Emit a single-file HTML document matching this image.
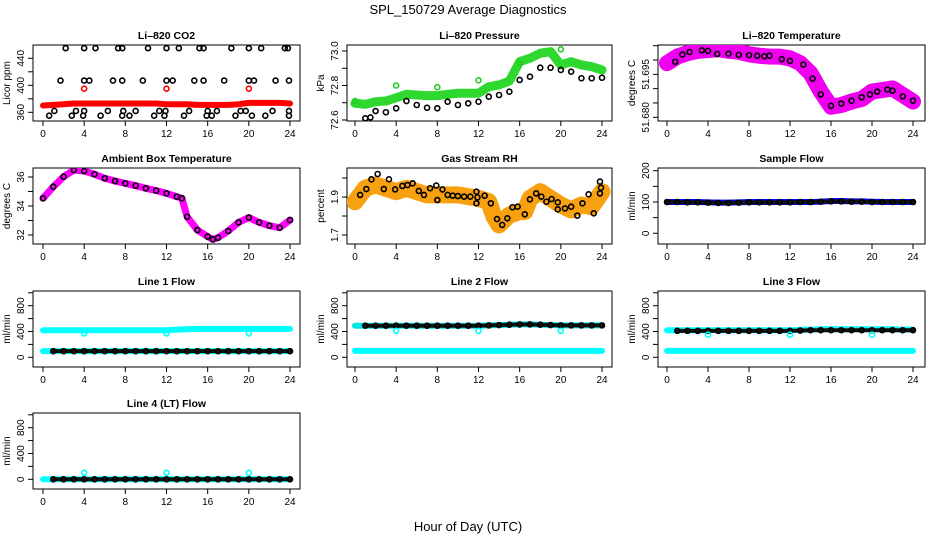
<!DOCTYPE html>
<html><head><meta charset="utf-8">
<style>
html,body{margin:0;padding:0;background:#fff;}
svg{display:block;font-family:"Liberation Sans",Arial,sans-serif;}
</style></head>
<body>
<svg id="chart" width="936" height="540" viewBox="0 0 936 540" xmlns="http://www.w3.org/2000/svg">
<text x="468" y="14" text-anchor="middle" font-size="13">SPL_150729  Average Diagnostics</text>
<text x="468" y="531" text-anchor="middle" font-size="13">Hour of Day (UTC)</text>
</svg>
<script>
// ---------- data ----------
const xTicks = [0,4,8,12,16,20,24];
const hours = [0,1,2,3,4,5,6,7,8,9,10,11,12,13,14,15,16,17,18,19,20,21,22,23,24];

// CO2
const co2Red = [370,371,372,373,373,373,373,373,373,373,373,373,372,372,372,371,371,371,371,372,374,374,374,374,373];
const co2OutHours = [4,12,20];
const co2OutVals = [395,395,395];
const co2Row455Hours = [2.2,4,5.1,7.3,7.7,10.2,12,13.2,15.2,15.6,18.3,20,21.2,23.5,23.8];
const co2Row407Hours = [1.7,4,4.5,6.8,7.7,9.7,12,12.6,14.7,15.6,17.6,20,20.5,22.6,23.9];
const co2Row362Hours = [1.1,3.2,4,6.3,7.8,9.0,11.3,11.9,14.2,16,16.9,19.2,19.7,22.3,23.9];
const co2Row355Hours = [0.6,2.8,3.9,5.6,7.7,8.4,10.8,11.8,13.7,15.9,16.4,18.7,20.3,21.6,23.9];

// Pressure
const presGreen = [72.697,72.691,72.706,72.710,72.729,72.749,72.745,72.741,72.741,72.749,72.755,72.755,72.755,72.793,72.803,72.826,72.938,72.958,72.987,72.996,72.919,72.938,72.919,72.909,72.89];
const presBlackHours = [1,1.5,2,3,4,5,6,7,8,9,10,11,12,13,14,15,16,17,18,19,20,21,22,23,24];
const presBlack = [72.61,72.615,72.652,72.645,72.668,72.71,72.687,72.671,72.668,72.706,72.687,72.697,72.706,72.735,72.745,72.764,72.832,72.851,72.903,72.903,72.89,72.88,72.842,72.842,72.845];
const presGreenOutHours = [0,4,8,12,16,20];
const presGreenOut = [72.71,72.80,72.79,72.83,72.93,73.01];

// Li-820 temperature
const tempPink = [51.6989,51.7012,51.7024,51.7032,51.7035,51.7038,51.7032,51.7029,51.7020,51.7015,51.7012,51.7012,51.7006,51.6989,51.6954,51.6890,51.6837,51.6843,51.6855,51.6864,51.6890,51.6895,51.6901,51.6878,51.6855];
const tempBlackHours = [0.8,1.5,2.2,3.4,4,4.9,6,7,8,8.8,9.5,10,11.2,12,13.3,14.2,15,16,17,18,19,19.8,20.5,21.5,22,23,24];
const tempBlack = [51.6994,51.7019,51.7028,51.7034,51.7032,51.7021,51.7022,51.7018,51.7017,51.7015,51.7013,51.7015,51.7003,51.6997,51.6984,51.6935,51.6880,51.6840,51.6848,51.6858,51.6870,51.6880,51.6890,51.6897,51.6893,51.6873,51.6858];

// Ambient box temperature
const ambHours = [0,1,2,3,4,5,6,7,8,9,10,11,12,13,13.5,14,15,16,16.5,17,18,19,20,21,22,23,24];
const ambVals = [34.53,35.33,36.02,36.48,36.41,36.19,35.91,35.72,35.56,35.40,35.22,35.06,34.87,34.64,34.53,33.26,32.34,31.89,31.70,31.81,32.28,32.87,33.20,32.87,32.64,32.50,33.03];

// Gas stream RH
const rhHours = [0,1,2,3,4,5,6,7,8,9,10,11,12,13,13.5,14,15,16,16.5,17,18,19,20,21,22,23,24];
const rhBand = [1.875,1.946,1.963,1.946,1.928,1.946,1.928,1.911,1.911,1.911,1.911,1.902,1.893,1.875,1.796,1.753,1.805,1.823,1.823,1.893,1.928,1.893,1.858,1.832,1.858,1.849,1.928];
const rhBlackHours = [0.5,1.1,1.6,2.2,2.8,3.3,3.9,4.6,5.1,5.6,6.2,6.7,7.3,7.9,8,8.5,9,9.5,10,10.6,11.2,11.8,11.8,11.9,12.6,13.2,13.8,14.3,14.8,15.3,15.8,16.5,17,17.6,18.1,18.6,19.1,19.7,19.7,20.4,21,21.6,22.1,22.7,23.2,23.8,23.8,23.9];
const rhBlack = [1.911,1.942,1.993,2.021,1.942,1.993,1.940,1.958,1.963,1.972,1.932,1.911,1.946,1.960,1.884,1.940,1.911,1.907,1.905,1.902,1.902,1.928,1.867,1.898,1.907,1.867,1.784,1.753,1.788,1.846,1.849,1.809,1.888,1.919,1.902,1.875,1.889,1.872,1.835,1.840,1.849,1.802,1.867,1.914,1.814,1.919,1.981,1.949];

// Sample flow
const sampleBlue = [100,100,100,100,99,98,98,99,100,100,100,100,100,100,100,101,103,103,102,102,101,100,100,100,100];
const sampleBlack = [100,100,99,99,98,97,97,98,99,99,99,99,99,100,100,101,102,102,101,101,100,100,100,100,100];

// Line flows
const l1Cyan = [420,420,420,420,420,420,420,420,420,420,420,420,420,430,435,440,440,440,440,440,440,440,440,440,440];
const l1Low = [95,95,95,95,95,95,95,95,95,95,95,95,95,95,95,95,95,95,95,95,95,95,95,95,95];
const l1Out = [370,370,370];
const l2Black = [490,490,490,490,490,490,490,490,490,490,490,490,490,495,500,505,510,510,505,500,495,495,495,495,495];
const l2Cyan = [100,100,100,100,100,100,100,100,100,100,100,100,100,100,100,100,100,100,100,100,100,100,100,100,100];
const l2Out = [410,410,410];
const l3Black = [410,410,410,410,410,410,410,410,410,410,410,410,410,415,420,420,420,420,420,420,420,420,420,420,420];
const l3CyanHi = [420,420,420,420,420,420,420,420,420,420,420,420,420,425,430,435,435,435,435,435,435,435,435,430,430];
const l3Cyan = [100,100,100,100,100,100,100,100,100,100,100,100,100,100,100,100,100,100,100,100,100,100,100,100,100];
const l3Out = [350,350,350];
const l4Black = [0,0,0,0,0,0,0,0,0,0,0,0,0,0,0,0,0,0,0,0,0,0,0,0,0];
const l4Out = [100,100,100];
const outHours = [4,12,20];

// ---------- drawing ----------
const NS = "http://www.w3.org/2000/svg";
const svg = document.getElementById('chart');
function mk(tag, attrs, parent){
  const e = document.createElementNS(NS, tag);
  for (const k in attrs) e.setAttribute(k, attrs[k]);
  (parent||svg).appendChild(e);
  return e;
}
const cols = [{l:33,r:300,x0:43,x1:290},{l:347,r:612,x0:355,x1:602},{l:658,r:925,x0:667,x1:913}];
const rowsTop = [45,168,291,413];
const H = 76;

function makePanel(name, title, col, row, yref, yTicks, yLabels, yTitle){
  const c = cols[col], top = rowsTop[row], bot = top+H;
  const g = mk('g',{});
  
  
  const sx = v => c.x0 + (v/24)*(c.x1-c.x0);
  const sy = v => top + yref[1] + (v-yref[0])*(yref[3]-yref[1])/(yref[2]-yref[0]);
  const t = mk('text',{x:(c.l+c.r)/2,y:top-6,'text-anchor':'middle','font-size':10.5,'font-weight':'bold'},g);
  t.textContent = title;
  
  
  const box = mk('rect',{x:c.l,y:top,width:c.r-c.l,height:H,fill:'none',stroke:'#000','stroke-width':1},g);
  
  
  const xa = mk('g',{},g);
  
  
  mk('line',{x1:sx(xTicks[0]),x2:sx(xTicks[xTicks.length-1]),y1:bot,y2:bot,stroke:'#000'},xa);
  xTicks.forEach(v=>{
    mk('line',{x1:sx(v),x2:sx(v),y1:bot,y2:bot+5,stroke:'#000'},xa);
    const tl = mk('text',{x:sx(v),y:bot+16,'text-anchor':'middle','font-size':10},xa);
    tl.textContent = v;
    
    
  });
  const ya = mk('g',{},g);
  
  
  mk('line',{x1:c.l,x2:c.l,y1:sy(yTicks[0]),y2:sy(yTicks[yTicks.length-1]),stroke:'#000'},ya);
  yTicks.forEach(v=>{ mk('line',{x1:c.l-5,x2:c.l,y1:sy(v),y2:sy(v),stroke:'#000'},ya); });
  yLabels.forEach(v=>{
    const x = c.l-9, y = sy(v);
    const tl = mk('text',{x:x,y:y,'text-anchor':'middle','font-size':10,transform:`rotate(-90 ${x} ${y})`},ya);
    tl.textContent = v;
    
    
  });
  const ytx = c.l-23, yty = top+H/2;
  const yt = mk('text',{x:ytx,y:yty,'text-anchor':'middle','font-size':10,transform:`rotate(-90 ${ytx} ${yty})`},g);
  yt.textContent = yTitle;
  
  
  const clip = 'clip'+name;
  const cp = mk('clipPath',{id:clip},g);
  mk('rect',{x:c.l,y:top,width:c.r-c.l,height:H},cp);
  const plot = mk('g',{'clip-path':`url(#${clip})`},g);
  return {sx, sy, plot};
}
function band(p, xs, ys, color, w, nm){
  const pts = xs.map((x,i)=>p.sx(x)+','+p.sy(ys[i])).join(' ');
  const e = mk('polyline',{points:pts,fill:'none',stroke:color,'stroke-width':w,'stroke-linejoin':'round','stroke-linecap':'round'},p.plot);
  
  
}
function pts(p, xs, ys, color, nm, r){
  xs.forEach((x,i)=>{
    const e = mk('circle',{cx:p.sx(x),cy:p.sy(ys[i]),r:r||2.5,fill:'none',stroke:color,'stroke-width':1.6},p.plot);
    
    
  });
}
function constArr(xs, v){ return xs.map(()=>v); }

// Panel 1: CO2
let p = makePanel('co2-panel','Li\u2013820 CO2',0,0,[360,67.3,440,13.3],[360,380,400,420,440],[360,400,440],'Licor ppm');
band(p,hours,co2Red,'#ff0000',6,'co2-red-series');
pts(p,co2OutHours,co2OutVals,'#ff0000','co2-red-outlier');
pts(p,co2Row455Hours,constArr(co2Row455Hours,455),'#000','co2-black-point');
pts(p,co2Row407Hours,constArr(co2Row407Hours,407),'#000','co2-black-point');
pts(p,co2Row362Hours,constArr(co2Row362Hours,362),'#000','co2-black-point');
pts(p,co2Row355Hours,constArr(co2Row355Hours,355),'#000','co2-black-point');

// Panel 2: Pressure
p = makePanel('pressure-panel','Li\u2013820 Pressure',1,0,[72.6,75,73.0,6],[72.6,72.7,72.8,72.9,73.0],['72.6','72.8','73.0'],'kPa');
band(p,hours,presGreen,'#2fd82f',9,'pressure-green-series');
pts(p,presGreenOutHours,presGreenOut,'#22cc22','pressure-green-outlier');
pts(p,presBlackHours,presBlack,'#000','pressure-black-point');

// Panel 3: Li-820 temperature
p = makePanel('li820-temp-panel','Li\u2013820 Temperature',2,0,[51.680,72.3,51.705,0.7],[51.680,51.685,51.690,51.695,51.700,51.705],['51.680','51.695'],'degrees C');
band(p,hours,tempPink,'#f000f0',16,'temp-magenta-series');
pts(p,tempBlackHours,tempBlack,'#000','temp-black-point');

// Panel 4: Ambient
p = makePanel('ambient-temp-panel','Ambient Box Temperature',0,1,[32,67,36,9],[32,33,34,35,36],[32,34,36],'degrees C');
band(p,ambHours,ambVals,'#ff00ff',7,'ambient-magenta-series');
pts(p,ambHours,ambVals,'#000','ambient-black-point');

// Panel 5: RH
p = makePanel('rh-panel','Gas Stream RH',1,1,[1.7,67,1.9,29],[1.7,1.8,1.9,2.0],['1.7','1.9'],'percent');
band(p,rhHours,rhBand,'#f7a010',17,'rh-orange-series');
pts(p,rhBlackHours,rhBlack,'#000','rh-black-point');

// Panel 6: Sample flow
p = makePanel('sample-flow-panel','Sample Flow',2,1,[0,65.3,200,2.7],[0,50,100,150,200],[0,100,200],'ml/min');
band(p,hours,sampleBlue,'#0000ff',6,'sample-blue-series');
band(p,hours,sampleBlack,'#111',4,'sample-black-series');
pts(p,hours,sampleBlack,'#000','sample-black-point');

const flowRef = [0,66.3,800,14.7];
const flowTicks = [0,200,400,600,800,1000];
const flowLabels = [0,400,800];

// Line 1
p = makePanel('line1-flow-panel','Line 1 Flow',0,2,flowRef,flowTicks,flowLabels,'ml/min');
band(p,hours,l1Cyan,'#00ffff',6,'line1-cyan-series');
band(p,hours,l1Low,'#00ffff',6,'line1-cyan-low-series');
band(p,hours.slice(1),l1Low.slice(1),'#111',4,'line1-black-series');
pts(p,hours.slice(1),l1Low.slice(1),'#000','line1-black-point');
pts(p,outHours,l1Out,'#00ffff','line1-cyan-outlier');

// Line 2
p = makePanel('line2-flow-panel','Line 2 Flow',1,2,flowRef,flowTicks,flowLabels,'ml/min');
band(p,hours,l2Cyan,'#00ffff',6,'line2-cyan-series');
band(p,hours,l2Black,'#00e5e5',6,'line2-cyan-high-series');
band(p,hours.slice(1),l2Black.slice(1),'#111',4,'line2-black-series');
pts(p,hours.slice(1),l2Black.slice(1),'#000','line2-black-point');
pts(p,outHours,l2Out,'#00ffff','line2-cyan-outlier');

// Line 3
p = makePanel('line3-flow-panel','Line 3 Flow',2,2,flowRef,flowTicks,flowLabels,'ml/min');
band(p,hours,l3Cyan,'#00ffff',6,'line3-cyan-series');
band(p,hours,l3CyanHi,'#00ffff',6,'line3-cyan-high-series');
band(p,hours.slice(1),l3Black.slice(1),'#111',4,'line3-black-series');
pts(p,hours.slice(1),l3Black.slice(1),'#000','line3-black-point');
pts(p,outHours,l3Out,'#00ffff','line3-cyan-outlier');

// Line 4
p = makePanel('line4-flow-panel','Line 4 (LT) Flow',0,3,flowRef,flowTicks,flowLabels,'ml/min');
band(p,hours,l4Black,'#00ffff',6,'line4-cyan-series');
band(p,hours.slice(1),l4Black.slice(1),'#111',4,'line4-black-series');
pts(p,hours.slice(1),l4Black.slice(1),'#000','line4-black-point');
pts(p,outHours,l4Out,'#00ffff','line4-cyan-outlier');
</script>
</body></html>
